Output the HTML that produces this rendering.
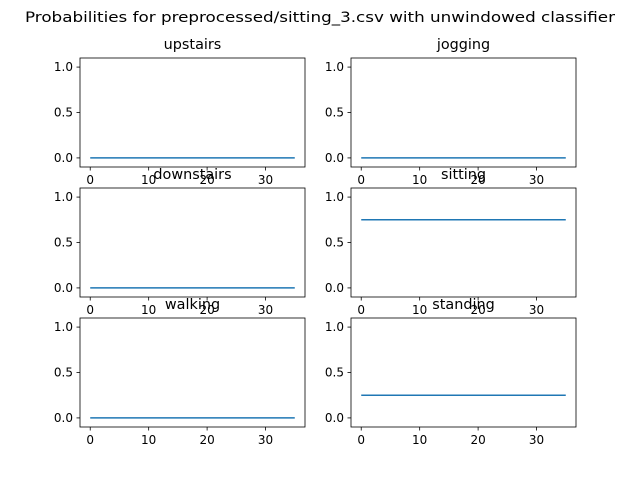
<!DOCTYPE html>
<html><head><meta charset="utf-8"><style>body{margin:0;background:#fff}svg{display:block}text{font-family:"DejaVu Sans","Liberation Sans",sans-serif}</style></head>
<body>
<svg id="fig" width="640" height="480">
<text x="320" y="22" font-size="14.4" text-anchor="middle" textLength="590" lengthAdjust="spacingAndGlyphs">Probabilities for preprocessed/sitting_3.csv with unwindowed classifier</text>
</svg>
<script>
const titles = ["upstairs","jogging","downstairs","sitting","walking","standing"];
const probs = [0, 0, 0, 0.75, 0, 0.25];
const xStart = 0, xEnd = 35;
const yTicks = [0.0, 0.5, 1.0];
const yTickLabels = ["0.0","0.5","1.0"];
const xTicks = [0, 10, 20, 30];
const xTickLabels = ["0","10","20","30"];

const NS="http://www.w3.org/2000/svg";
const svg=document.getElementById('fig');
function mk(t,a,p){const e=document.createElementNS(NS,t);for(const k in a)e.setAttribute(k,a[k]);(p||svg).appendChild(e);return e;}
const cols=[80,351], rows=[58,188,318], W=225, H=109;
titles.forEach((name,i)=>{
  const x0=cols[i%2], y0=rows[Math.floor(i/2)];
  const g=mk('g',{});
  
  
  const xmin=xStart-(xEnd-xStart)*0.05, xmax=xEnd+(xEnd-xStart)*0.05;
  const sx=v=>x0+(v-xmin)/(xmax-xmin)*W;
  const sy=v=>y0+H-(v-(-0.1))/1.2*H;
  const t=mk('text',{x:x0+W/2,y:y0-9,'font-size':14.4,'text-anchor':'middle'},g);t.textContent=name;
  
  
  yTicks.forEach((v,j)=>{
    const y=sy(v);
    mk('line',{x1:x0-3.5,x2:x0,y1:y,y2:y,stroke:'#000','stroke-width':0.8},g);
    const l=mk('text',{x:x0-7,y:y+4,'font-size':12,'text-anchor':'end'},g);l.textContent=yTickLabels[j];
  });
  xTicks.forEach((v,j)=>{
    const x=sx(v);
    mk('line',{x1:x,x2:x,y1:y0+H,y2:y0+H+3.5,stroke:'#000','stroke-width':0.8},g);
    const l=mk('text',{x:x,y:y0+H+17,'font-size':12,'text-anchor':'middle'},g);l.textContent=xTickLabels[j];
  });
  const ln=mk('line',{x1:sx(xStart),x2:sx(xEnd),y1:sy(probs[i]),y2:sy(probs[i]),stroke:'#1f77b4','stroke-width':1.5},g);
  
  
  mk('rect',{x:x0,y:y0,width:W,height:H,fill:'none',stroke:'#000','stroke-width':0.8},g);
});
</script>
</body></html>
